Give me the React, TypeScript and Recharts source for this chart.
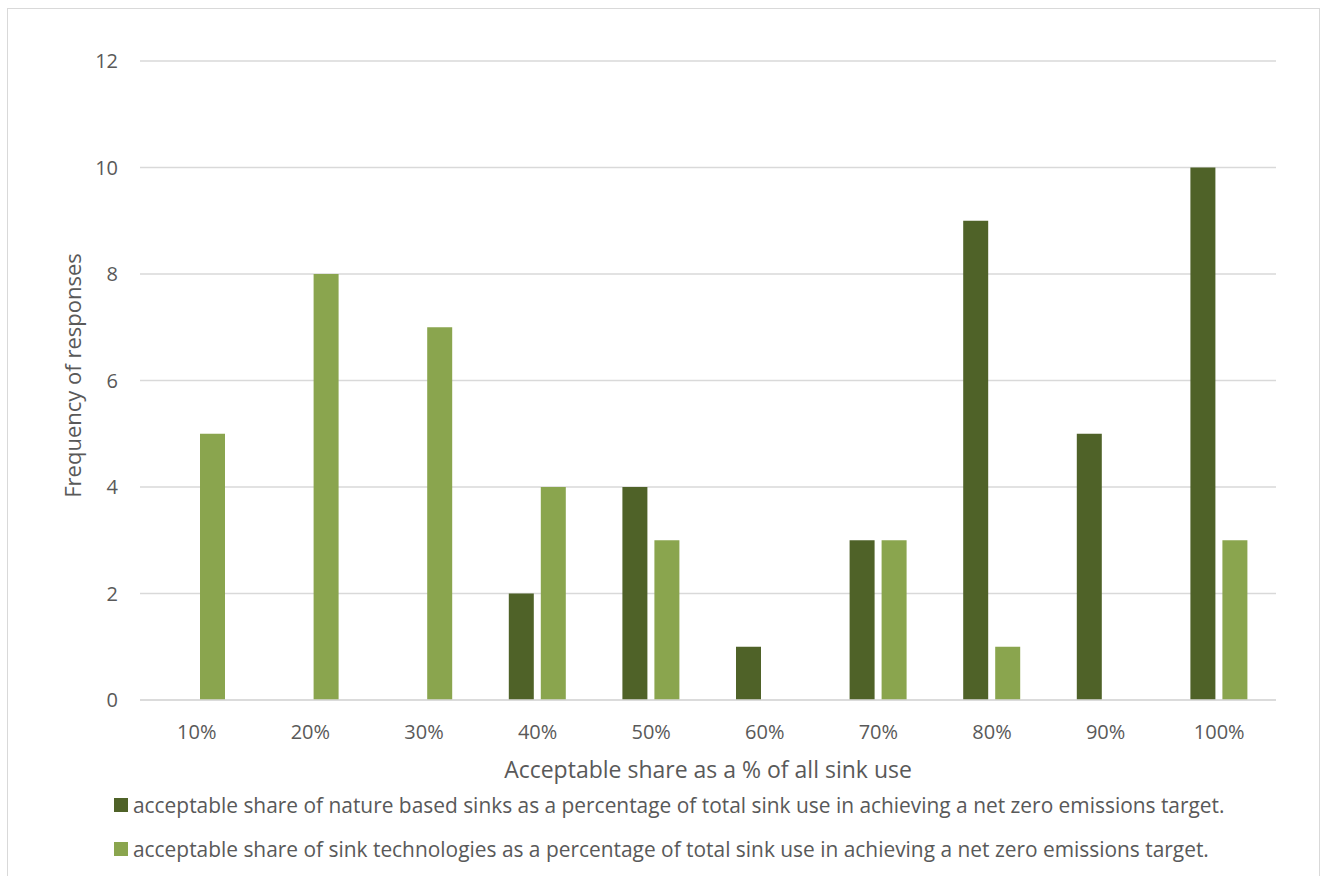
import React from 'react';
import { BarChart, Bar, XAxis, YAxis, CartesianGrid } from 'recharts';

const shares = ['10%', '20%', '30%', '40%', '50%', '60%', '70%', '80%', '90%', '100%'];
const natureSinks = [0, 0, 0, 2, 4, 1, 3, 9, 5, 10];
const sinkTechnologies = [5, 8, 7, 4, 3, 0, 3, 1, 0, 3];
const yTicks = [0, 2, 4, 6, 8, 10, 12];

const natureLabel =
  'acceptable share of nature based sinks as a percentage of total sink use in achieving a net zero emissions target.';
const techLabel =
  'acceptable share of sink technologies as a percentage of total sink use in achieving a net zero emissions target.';

const NATURE = '#4F6228';
const TECH = '#8AA54E';

const data = shares.map((share, i) => ({
  share,
  nature: natureSinks[i],
  tech: sinkTechnologies[i],
}));

const legendItems = [
  { label: natureLabel, color: NATURE },
  { label: techLabel, color: TECH },
];

const FONT = '"Open Sans", "Noto Sans", sans-serif';
const TEXT = '#595959';
const GRID = '#d9d9d9';

// rotated y-axis title, sitting left of the tick labels
const YTitle = ({ viewBox }: any) => {
  const x = viewBox.x - 8;
  const y = viewBox.y + viewBox.height / 2 - 5;
  return (
    <text
      x={x}
      y={y}
      transform={`rotate(-90, ${x}, ${y})`}
      textAnchor="middle"
      dominantBaseline="central"
      fill={TEXT}
      fontSize={22}
      fontFamily={FONT}
    >
      Frequency of responses
    </text>
  );
};

export default function App() {
  return (
    <div style={{ position: 'fixed', left: 0, top: 0, width: 1320, height: 876, overflow: 'hidden', background: '#fff' }}>
      <div
        style={{
          position: 'absolute',
          left: 7,
          top: 8,
          width: 1311,
          height: 900,
          border: `1px solid ${GRID}`,
        }}
      />
      <div style={{ position: 'absolute', left: 0, top: 0 }}>
        <BarChart
          width={1320}
          height={876}
          data={data}
          margin={{ top: 61, right: 44, bottom: 96, left: 80 }}
          barGap={7}
          barSize={25}
        >
          <CartesianGrid vertical={false} stroke={GRID} strokeWidth={1.3} />
          <XAxis
            dataKey="share"
            height={80}
            tickLine={false}
            axisLine={{ stroke: GRID, strokeWidth: 1.3 }}
            tickMargin={19}
            tick={{ fill: TEXT, fontSize: 20, fontFamily: FONT }}
            label={{
              value: 'Acceptable share as a % of all sink use',
              position: 'insideBottom',
              offset: 2,
              fill: TEXT,
              fontSize: 23,
              fontFamily: FONT,
            }}
          />
          <YAxis
            domain={[0, 12]}
            ticks={yTicks}
            width={60}
            tickLine={false}
            axisLine={false}
            tickMargin={16}
            tick={{ fill: TEXT, fontSize: 20, fontFamily: FONT }}
            label={<YTitle />}
          />
          <Bar dataKey="nature" name={natureLabel} fill={NATURE} isAnimationActive={false} />
          <Bar dataKey="tech" name={techLabel} fill={TECH} isAnimationActive={false} />
        </BarChart>
      </div>
      {/* series key under the axis title */}
      <div style={{ position: 'absolute', left: 114, top: 783, fontFamily: FONT, fontSize: 20.9, color: TEXT }}>
        {legendItems.map((item) => (
          <div key={item.label} style={{ display: 'flex', alignItems: 'center', height: 44 }}>
            <span style={{ width: 14, height: 14, background: item.color, marginRight: 5, flex: 'none' }} />
            <span style={{ whiteSpace: 'nowrap' }}>{item.label}</span>
          </div>
        ))}
      </div>
    </div>
  );
}
